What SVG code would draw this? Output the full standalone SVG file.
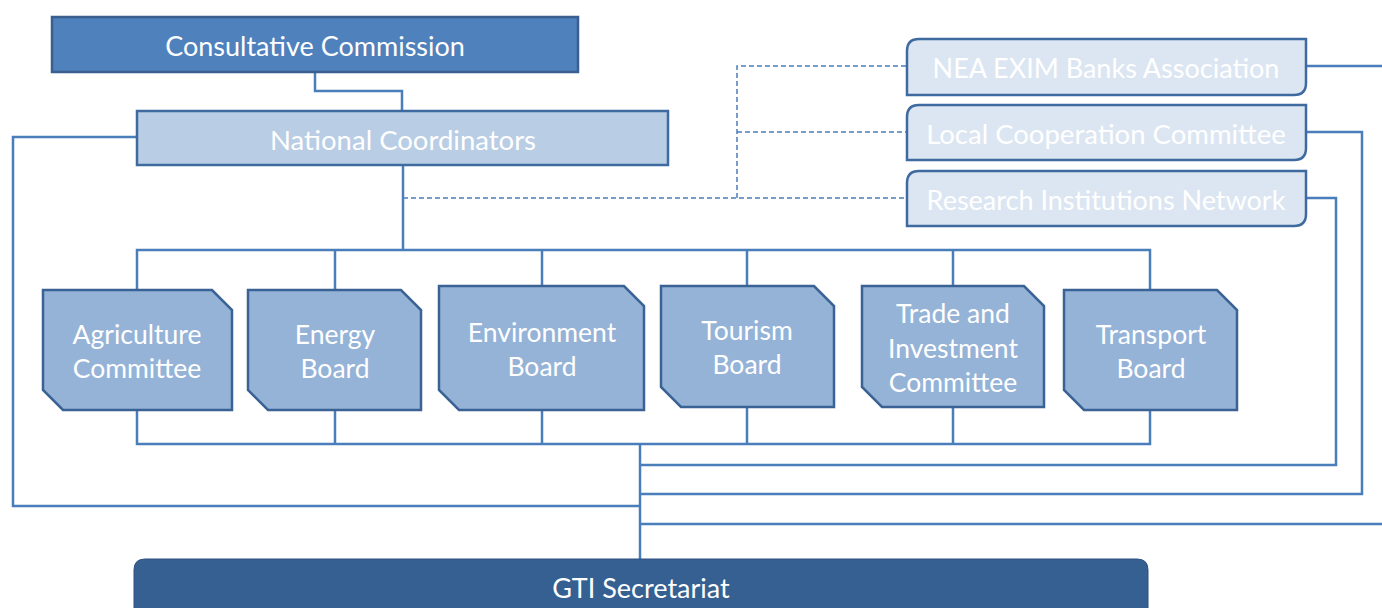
<svg xmlns="http://www.w3.org/2000/svg" width="1382" height="608" viewBox="0 0 1382 608">
<style>
.t{font-family:Lato,"Open Sans","DejaVu Sans",sans-serif;fill:#fff;text-anchor:middle;dominant-baseline:central}
.ln{fill:none;stroke:#4a7ebb;stroke-width:2.5}
.ds{fill:none;stroke:#4a7ebb;stroke-width:1.5;stroke-dasharray:5 3}
.snip{fill:#95b3d7;stroke:#3a6294;stroke-width:2.5;stroke-linejoin:miter}
.side{fill:#dce6f2;stroke:#3e6aa0;stroke-width:2.5}
</style>
<g id="connectors">
<path class="ln" d="M315 72V91H402V111"/>
<path class="ln" d="M137 137H13V506H640"/>
<path class="ln" d="M403 165V250"/>
<path class="ln" d="M137 290V250H1150V290M335 250V290M542 250V286M747 250V286M953 250V286"/>
<path class="ln" d="M137 410V444H1150V410M335 410V444M542 410V444M747 407V444M953 407V444"/>
<path class="ln" d="M640 444V560"/>
<path class="ln" d="M1306 198H1336V465H640"/>
<path class="ln" d="M1306 132H1362V494H640"/>
<path class="ln" d="M1306 66H1382M1382 524H640"/>
<path class="ds" d="M403 198H907M737 198V66H907M737 132H907"/>
</g>
<g id="consultative">
<rect x="52" y="17" width="526" height="55" fill="#4f81bd" stroke="#3a5f8e" stroke-width="2.5"/>
<text class="t" x="315" y="45" font-size="27">Consultative Commission</text>
</g>
<g id="national">
<rect x="137" y="111" width="531" height="54" fill="#b9cde5" stroke="#3e6aa0" stroke-width="2.5"/>
<text class="t" x="403" y="139" font-size="27.5">National Coordinators</text>
</g>
<g id="nea">
<path class="side" d="M919 39H1306V83Q1306 95 1294 95H907V51Q907 39 919 39Z"/>
<text class="t" x="1106" y="67" font-size="27">NEA EXIM Banks Association</text>
</g>
<g id="local">
<path class="side" d="M919 105H1306V148Q1306 160 1294 160H907V117Q907 105 919 105Z"/>
<text class="t" x="1106" y="133" font-size="27.5">Local Cooperation Committee</text>
</g>
<g id="research">
<path class="side" d="M919 171H1306V214Q1306 226 1294 226H907V183Q907 171 919 171Z"/>
<text class="t" x="1106" y="199" font-size="27">Research Institutions Network</text>
</g>
<g id="agriculture">
<path class="snip" d="M43 290H212L232 310V410H63L43 390Z"/>
<text class="t" x="137" y="334" font-size="26.5">Agriculture</text>
<text class="t" x="137" y="368" font-size="26.5">Committee</text>
</g>
<g id="energy">
<path class="snip" d="M248 290H401L421 310V410H268L248 390Z"/>
<text class="t" x="335" y="334" font-size="26.5">Energy</text>
<text class="t" x="335" y="368" font-size="26.5">Board</text>
</g>
<g id="environment">
<path class="snip" d="M439 286H624L644 306V410H459L439 390Z"/>
<text class="t" x="542" y="332" font-size="26.5">Environment</text>
<text class="t" x="542" y="366" font-size="26.5">Board</text>
</g>
<g id="tourism">
<path class="snip" d="M661 286H814L834 306V407H681L661 387Z"/>
<text class="t" x="747" y="330" font-size="26.5">Tourism</text>
<text class="t" x="747" y="364" font-size="26.5">Board</text>
</g>
<g id="trade">
<path class="snip" d="M862 286H1024L1044 306V407H882L862 387Z"/>
<text class="t" x="953" y="313" font-size="26.5">Trade and</text>
<text class="t" x="953" y="348" font-size="26.5">Investment</text>
<text class="t" x="953" y="382" font-size="26.5">Committee</text>
</g>
<g id="transport">
<path class="snip" d="M1064 290H1217L1237 310V410H1084L1064 390Z"/>
<text class="t" x="1151" y="334" font-size="26.5">Transport</text>
<text class="t" x="1151" y="368" font-size="26.5">Board</text>
</g>
<g id="gti">
<path d="M134 620V570Q134 559 145 559H1137Q1148 559 1148 570V620Z" fill="#366092" stroke="#2c5080" stroke-width="1"/>
<text class="t" x="641" y="587" font-size="27">GTI Secretariat</text>
</g>
</svg>
